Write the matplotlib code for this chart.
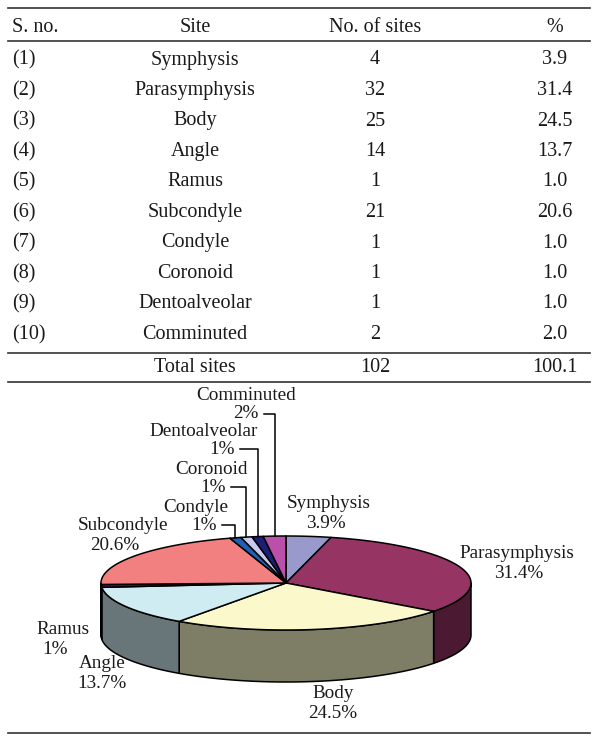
import numpy as np
import matplotlib.pyplot as plt
from matplotlib.patches import Polygon

plt.rcParams['font.family'] = ['Liberation Serif', 'DejaVu Serif']

# table data
sno = ['(1)', '(2)', '(3)', '(4)', '(5)', '(6)', '(7)', '(8)', '(9)', '(10)']
sites = ['Symphysis', 'Parasymphysis', 'Body', 'Angle', 'Ramus', 'Subcondyle',
         'Condyle', 'Coronoid', 'Dentoalveolar', 'Comminuted']
counts = [4, 32, 25, 14, 1, 21, 1, 1, 1, 2]
percent = ['3.9', '31.4', '24.5', '13.7', '1.0', '20.6', '1.0', '1.0', '1.0', '2.0']
total_label = 'Total sites'
total_count = 102
total_pct = '100.1'
headers = ['S. no.', 'Site', 'No. of sites', '%']

# Excel-like palette, slightly muted as in the print
colors = ['#9999cc', '#963463', '#fbf9cc', '#d0ecf3', '#660066', '#f28080',
          '#1f5fb5', '#c9c9ef', '#1e1e78', '#bb50aa']

# label anchor points (name line, percent line) in pixels
label_pos = {
    'Symphysis': ((329, 503), (326, 524)),
    'Parasymphysis': ((517, 553), (519, 573)),
    'Body': ((333, 693), (333, 713)),
    'Angle': ((102, 664), (102, 684)),
    'Ramus': ((63, 630), (55, 649)),
    'Subcondyle': ((123, 526), (115, 545)),
    'Condyle': ((196, 507), (204, 525)),
    'Coronoid': ((212, 469), (213, 487)),
    'Dentoalveolar': ((204, 432), (222, 449)),
    'Comminuted': ((246, 395), (246, 414)),
}
leader_sites = ['Condyle', 'Coronoid', 'Dentoalveolar', 'Comminuted']

fig = plt.figure(figsize=(6, 7.46), dpi=100)
ax = fig.add_axes([0, 0, 1, 1])
ax.set_xlim(0, 600)
ax.set_ylim(746, 0)
ax.axis('off')

fs = 14.5
fs_pie = 13.8
tc = '#1a1a1a'
rule_c = '#333333'

# ---- table ----
x_sno, x_site, x_cnt, x_pct = 12, 195, 375, 555
x0, x1 = 8, 590
y_head = 27
row0, dy = 60, 30.5

ax.plot([x0, x1], [8, 8], color=rule_c, lw=1.2)
ax.plot([x0, x1], [41, 41], color=rule_c, lw=1.2)
ax.text(x_sno, y_head, headers[0], ha='left', va='center', fontsize=fs, color=tc)
ax.text(x_site, y_head, headers[1], ha='center', va='center', fontsize=fs, color=tc)
ax.text(x_cnt, y_head, headers[2], ha='center', va='center', fontsize=fs, color=tc)
ax.text(x_pct, y_head, headers[3], ha='center', va='center', fontsize=fs, color=tc)

for i in range(len(sites)):
    y = row0 + i * dy
    ax.text(x_sno, y, sno[i], ha='left', va='center', fontsize=fs, color=tc)
    ax.text(x_site, y, sites[i], ha='center', va='center', fontsize=fs, color=tc)
    ax.text(x_cnt, y, str(counts[i]), ha='center', va='center', fontsize=fs, color=tc)
    ax.text(x_pct, y, percent[i], ha='center', va='center', fontsize=fs, color=tc)

ax.plot([x0, x1], [353, 353], color=rule_c, lw=1.2)
ax.text(x_site, 368, total_label, ha='center', va='center', fontsize=fs, color=tc)
ax.text(x_cnt, 368, str(total_count), ha='center', va='center', fontsize=fs, color=tc)
ax.text(x_pct, 368, total_pct, ha='center', va='center', fontsize=fs, color=tc)
ax.plot([x0, x1], [382, 382], color=rule_c, lw=1.2)
ax.plot([x0, x1], [733, 733], color=rule_c, lw=1.2)

# ---- 3D pie ----
cx, cy, a, b, depth = 286, 583, 185, 47, 52
frac = np.array(counts) / np.sum(counts)
edges = np.concatenate([[0], np.cumsum(frac)]) * 2 * np.pi  # clockwise from top


def pt(t):
    return cx + a * np.sin(t), cy - b * np.cos(t)


def shade(c, f=0.5):
    r, g, bb = [int(c[k:k + 2], 16) for k in (1, 3, 5)]
    return (r * f / 255, g * f / 255, bb * f / 255)


# sides (front half only: pi/2 .. 3pi/2)
for i in range(len(counts)):
    t1, t2 = max(edges[i], np.pi / 2), min(edges[i + 1], 3 * np.pi / 2)
    if t2 <= t1:
        continue
    t = np.linspace(t1, t2, 80)
    xs, ys = pt(t)
    poly = np.column_stack([np.concatenate([xs, xs[::-1]]),
                            np.concatenate([ys, ys[::-1] + depth])])
    ax.add_patch(Polygon(poly, closed=True, facecolor=shade(colors[i]),
                         edgecolor='black', lw=1.1, joinstyle='round'))

# top faces
for i in range(len(counts)):
    t = np.linspace(edges[i], edges[i + 1], 120)
    xs, ys = pt(t)
    poly = np.column_stack([np.concatenate([[cx], xs]), np.concatenate([[cy], ys])])
    ax.add_patch(Polygon(poly, closed=True, facecolor=colors[i],
                         edgecolor='black', lw=1.1, joinstyle='round'))

# labels
fig.canvas.draw()
rend = fig.canvas.get_renderer()
inv = ax.transData.inverted()
for i, s in enumerate(sites):
    (nx, ny), (px, py) = label_pos[s]
    ax.text(nx, ny, s, ha='center', va='center', fontsize=fs_pie, color=tc)
    pl = '%g%%' % float(percent[i])
    t = ax.text(px, py, pl, ha='center', va='center', fontsize=fs_pie, color=tc)
    if s in leader_sites:
        bb = t.get_window_extent(renderer=rend)
        xr = inv.transform((bb.x1, bb.y0))[0] + 5
        tm = 0.5 * (edges[i] + edges[i + 1])
        ex, ey = pt(tm)
        ax.plot([xr, ex, ex], [py, py, ey], color='black', lw=1.1)

fig.savefig('out.png', dpi=100)
